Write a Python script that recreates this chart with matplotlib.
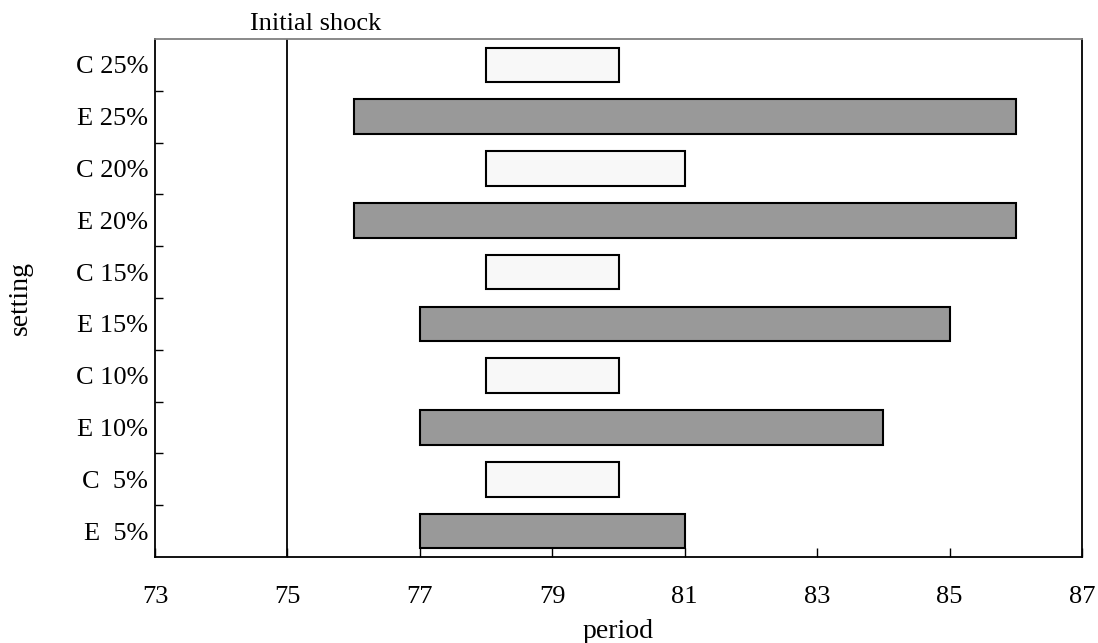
import numpy as np
import matplotlib
matplotlib.use('Agg')
import matplotlib.pyplot as plt

settings = ['E  5%', 'C  5%', 'E 10%', 'C 10%', 'E 15%', 'C 15%',
            'E 20%', 'C 20%', 'E 25%', 'C 25%']
start = [77, 78, 77, 78, 77, 78, 76, 78, 76, 78]
end = [81, 80, 84, 80, 85, 80, 86, 81, 86, 80]
shock_period = 75
x_ticks = [73, 75, 77, 79, 81, 83, 85, 87]

plt.rcParams['font.family'] = ['Liberation Serif', 'DejaVu Serif']

fig = plt.figure(figsize=(10.98, 6.43), dpi=100)
ax = fig.add_axes([0.1412, 0.1337, 0.8442, 0.8056])

colors = ['#999999' if s.startswith('E') else '#f8f8f8' for s in settings]
y = np.arange(len(settings))
ax.barh(y, np.array(end) - np.array(start), left=start, height=0.67,
        color=colors, edgecolor='black', linewidth=1.5, zorder=3)

ax.axvline(shock_period, color='black', linewidth=1.3, zorder=2)
ax.text(74.43, 1.008, 'Initial shock', transform=ax.get_xaxis_transform(),
        ha='left', va='bottom', fontsize=19)

ax.set_xlim(73, 87)
ax.set_ylim(-0.5, len(settings) - 0.5)
ax.set_xticks(x_ticks)
ax.set_xticklabels([str(t) for t in x_ticks], fontsize=19)
ax.tick_params(axis='x', direction='in', length=6.5, width=1, pad=21)

# y ticks sit between categories, labels at centres
ax.set_yticks(np.arange(0.5, len(settings) - 1, 1.0))
ax.set_yticklabels([])
ax.set_yticks(y, minor=True)
ax.set_yticklabels(settings, minor=True, fontsize=19)
ax.tick_params(axis='y', which='major', direction='in', length=6, width=1)
ax.tick_params(axis='y', which='minor', length=0, pad=5)

ax.set_xlabel('period', fontsize=20)
ax.xaxis.set_label_coords(0.5, -0.119)
ax.set_ylabel('setting', fontsize=20)
ax.yaxis.set_label_coords(-0.1316, 0.5)

for side in ['left', 'bottom', 'right']:
    ax.spines[side].set_linewidth(1.3)
ax.spines['top'].set_color('#808080')
ax.spines['top'].set_linewidth(1.3)

fig.savefig('out.png', dpi=100)
